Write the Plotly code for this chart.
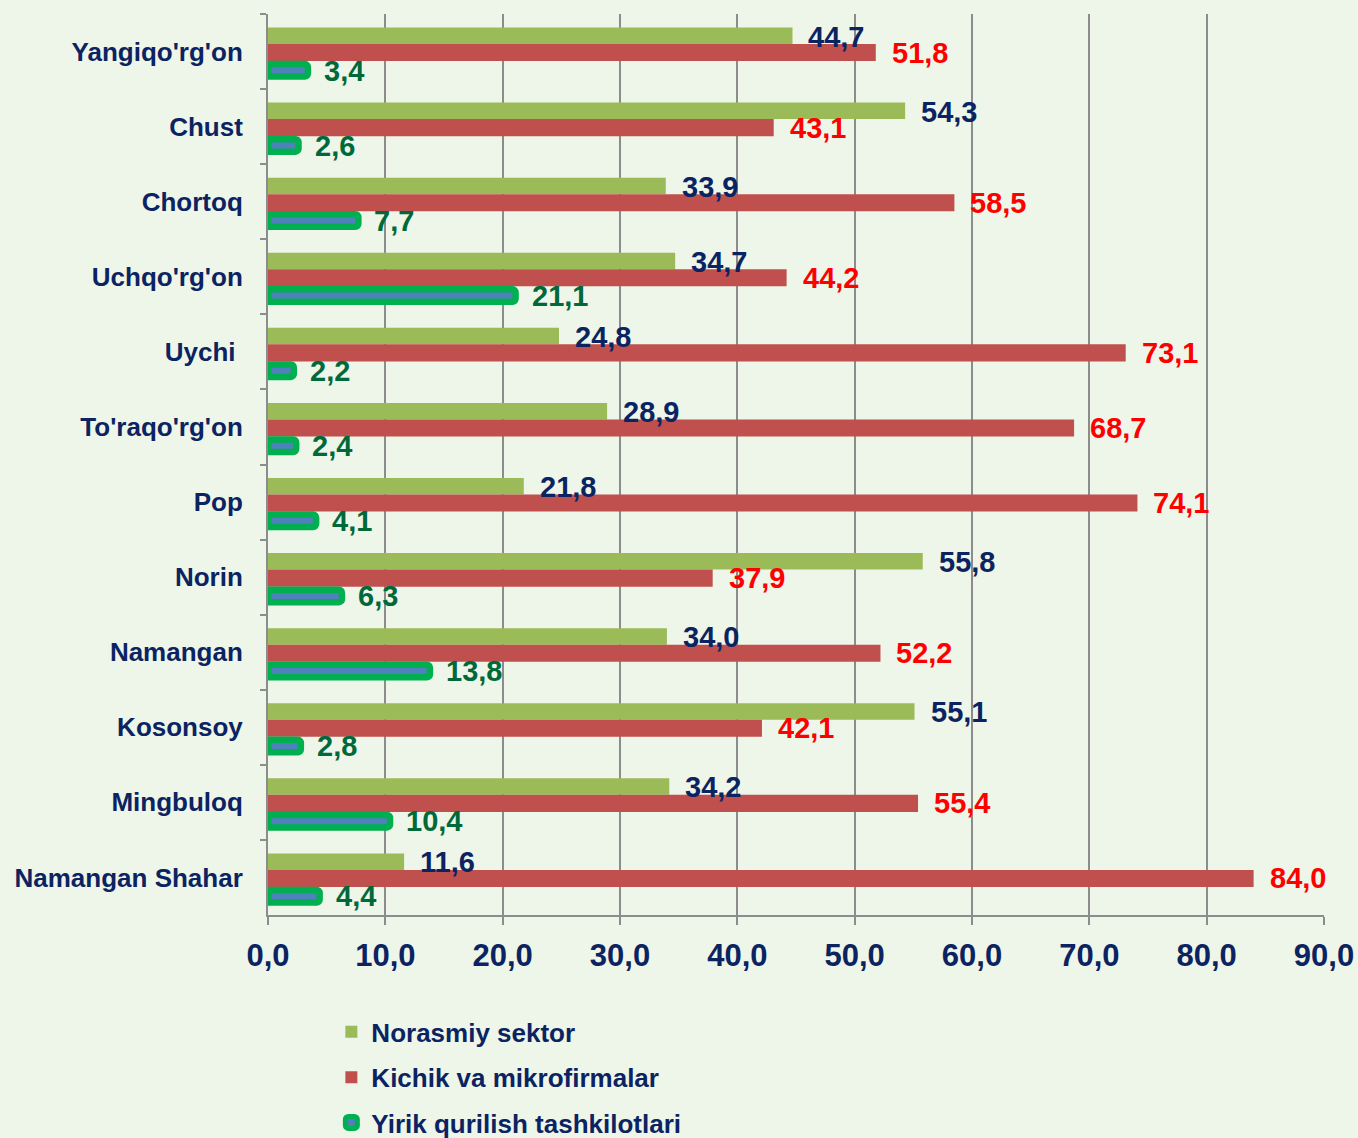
import plotly.graph_objects as go

categories = ["Yangiqo'rg'on", "Chust", "Chortoq", "Uchqo'rg'on", "Uychi\u00a0",
              "To'raqo'rg'on", "Pop", "Norin", "Namangan", "Kosonsoy",
              "Mingbuloq", "Namangan Shahar"]
norasmiy = [44.7, 54.3, 33.9, 34.7, 24.8, 28.9, 21.8, 55.8, 34.0, 55.1, 34.2, 11.6]
kichik = [51.8, 43.1, 58.5, 44.2, 73.1, 68.7, 74.1, 37.9, 52.2, 42.1, 55.4, 84.0]
yirik = [3.4, 2.6, 7.7, 21.1, 2.2, 2.4, 4.1, 6.3, 13.8, 2.8, 10.4, 4.4]
series_names = ["Norasmiy sektor", "Kichik va mikrofirmalar", "Yirik qurilish tashkilotlari"]
x_ticks = [0, 10, 20, 30, 40, 50, 60, 70, 80, 90]
x_tick_labels = ["0,0", "10,0", "20,0", "30,0", "40,0", "50,0", "60,0", "70,0", "80,0", "90,0"]

FONT = "Liberation Sans, Arial, sans-serif"
NAVY = "#0B2461"
BG = "#EEF5E9"
GRID = "#8C8C8C"

fig = go.Figure()
fig.add_trace(go.Bar(
    y=categories, x=norasmiy, orientation="h", name=series_names[0],
    marker=dict(color="#9BBB59", line=dict(width=0)),
    offset=-0.32, width=0.22, legendgroup="a",
))
fig.add_trace(go.Bar(
    y=categories, x=kichik, orientation="h", name=series_names[1],
    marker=dict(color="#C0504D", line=dict(width=0)),
    offset=-0.10, width=0.227, legendgroup="b",
))
fig.add_trace(go.Bar(
    y=categories, x=yirik, orientation="h", name=series_names[2],
    marker=dict(color="#4F81BD", line=dict(color="#00B050", width=6.5), cornerradius=3),
    offset=0.167, width=0.167, legendgroup="c",
))

def fmt(v):
    return f"{v:.1f}".replace(".", ",")

annos = []
for vals, color, ys in [(norasmiy, NAVY, 15), (kichik, "#FF0000", -1), (yirik, "#00693A", -19)]:
    for c, v in zip(categories, vals):
        annos.append(dict(x=v, y=c, xref="x", yref="y", text=fmt(v), showarrow=False,
                          xanchor="left", yanchor="middle", xshift=14, yshift=ys,
                          font=dict(family=FONT, size=29, color=color, weight="bold")))

fig.update_layout(
    width=1358, height=1138,
    paper_bgcolor=BG, plot_bgcolor=BG,
    barmode="overlay",
    margin=dict(l=268, r=34, t=14, b=223, autoexpand=False),
    font=dict(family=FONT, color=NAVY),
    annotations=annos,
    showlegend=True,
    legend=dict(
        orientation="v", x=0.06, xanchor="left", y=-0.1037, yanchor="top",
        font=dict(family=FONT, size=26, color=NAVY, weight="bold"),
        bgcolor="rgba(0,0,0,0)", tracegroupgap=8.5, traceorder="grouped",
    ),
    xaxis=dict(
        range=[0, 90], tickvals=x_ticks, ticktext=x_tick_labels,
        showgrid=True, gridcolor=GRID, gridwidth=2,
        showline=True, linecolor=GRID, linewidth=2,
        ticks="outside", ticklen=8, tickwidth=2, tickcolor=GRID,
        tickfont=dict(family=FONT, size=31, color=NAVY, weight="bold"),
        ticklabelstandoff=4, zeroline=False, automargin=False,
    ),
    yaxis=dict(
        autorange="reversed", type="category",
        showgrid=False, showline=True, linecolor=GRID, linewidth=2,
        ticks="outside", ticklen=6, tickwidth=2, tickcolor=GRID,
        tickson="boundaries", automargin=False,
        tickfont=dict(family=FONT, size=26, color=NAVY, weight="bold"),
        ticklabelstandoff=18,
    ),
)

fig.write_html("out.html", config={"displayModeBar": False},
               post_script="document.body.style.margin='0';document.body.style.background='" + BG + "';")
